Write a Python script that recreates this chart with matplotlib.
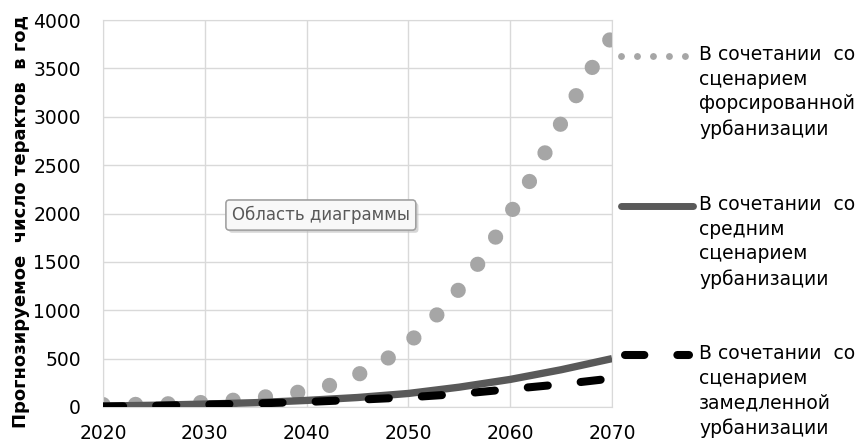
import matplotlib
matplotlib.use("Agg")
import matplotlib.pyplot as plt
from matplotlib.lines import Line2D
import matplotlib.patheffects as pe

plt.rcParams['font.family'] = ['DejaVu Sans']

# прогноз, форсированная урбанизация (шаг 2 года)
years_fast = [2020, 2022, 2024, 2026, 2028, 2030, 2032, 2034, 2036, 2038, 2040,
              2042, 2044, 2046, 2048, 2050, 2052, 2054, 2056, 2058, 2060,
              2062, 2064, 2066, 2068, 2070]
fast = [25, 25, 28, 32, 38, 48, 62, 82, 105, 135, 165,
        215, 280, 385, 505, 660, 860, 1090, 1350, 1660, 2000,
        2350, 2740, 3130, 3500, 3830]

# средний и замедленный сценарии (шаг 5 лет)
years = [2020, 2025, 2030, 2035, 2040, 2045, 2050, 2055, 2060, 2065, 2070]
medium = [10, 18, 30, 45, 68, 98, 140, 205, 285, 385, 500]
slow = [5, 12, 25, 37, 52, 75, 100, 135, 185, 235, 295]

labels = ["В сочетании  со\nсценарием\nфорсированной\nурбанизации",
          "В сочетании  со\nсредним\nсценарием\nурбанизации",
          "В сочетании  со\nсценарием\nзамедленной\nурбанизации"]

c_fast = '#a6a6a6'
c_med = '#595959'
c_slow = '#000000'

fig = plt.figure(figsize=(8.58, 4.41), dpi=100)
ax = fig.add_axes([103 / 858, 1 - 407 / 441, (612 - 103) / 858, (407 - 20) / 441])

ax.plot(years_fast, fast, color=c_fast, lw=11, linestyle=(0, (0.001, 2.13)),
        dash_capstyle='round', zorder=2)
ax.plot(years, medium, color=c_med, lw=5.3, solid_capstyle='butt', zorder=3)
ax.plot(years, slow, color=c_slow, lw=5.8, linestyle=(0, (2.5, 4.1)),
        dash_capstyle='round', zorder=4)

ax.set_xlim(2020, 2070)
ax.set_ylim(0, 4000)
ax.set_xticks(range(2020, 2071, 10))
ax.set_yticks(range(0, 4001, 500))
ax.grid(True, color='#d9d9d9', lw=1)
ax.set_axisbelow(True)
for s in ax.spines.values():
    s.set_color('#d9d9d9')
ax.tick_params(length=0, labelsize=13.5, colors='#000000')
ax.tick_params(axis='y', pad=16)
ax.tick_params(axis='x', pad=12)

fig.text(21 / 858, 1 - 222 / 441, "Прогнозируемое  число терактов  в год",
         rotation=90, ha='center', va='center', fontsize=13, fontweight='bold')

# всплывающая подсказка
t = ax.text(0.428, 0.496, "Область диаграммы", transform=ax.transAxes,
            ha='center', va='center', fontsize=12, color='#595959', zorder=10,
            bbox=dict(boxstyle='round,pad=0.35,rounding_size=0.2',
                      facecolor='#f8f8f8', edgecolor='#a0a0a0', lw=1))
t.get_bbox_patch().set_path_effects([pe.withSimplePatchShadow(offset=(2, -2), shadow_rgbFace='#bbbbbb', alpha=0.6), pe.Normal()])

# легенда
def fx(px):
    return px / 858

def fy(px):
    return 1 - px / 441

fig.add_artist(Line2D([fx(621), fx(686)], [fy(56), fy(56)], color=c_fast, lw=5,
                      linestyle=(0, (0.001, 2.3)), dash_capstyle='round'))
fig.add_artist(Line2D([fx(621), fx(693)], [fy(206), fy(206)], color=c_med, lw=5,
                      solid_capstyle='round'))
fig.add_artist(Line2D([fx(625), fx(689)], [fy(355), fy(355)], color=c_slow, lw=5.8,
                      linestyle=(0, (2.4, 4.1)), dash_capstyle='round'))

for ytop, lab in zip([45, 195, 344], labels):
    fig.text(fx(699), fy(ytop), lab, ha='left', va='top', fontsize=13.5,
             linespacing=1.37)

fig.savefig('out.png', dpi=100)
